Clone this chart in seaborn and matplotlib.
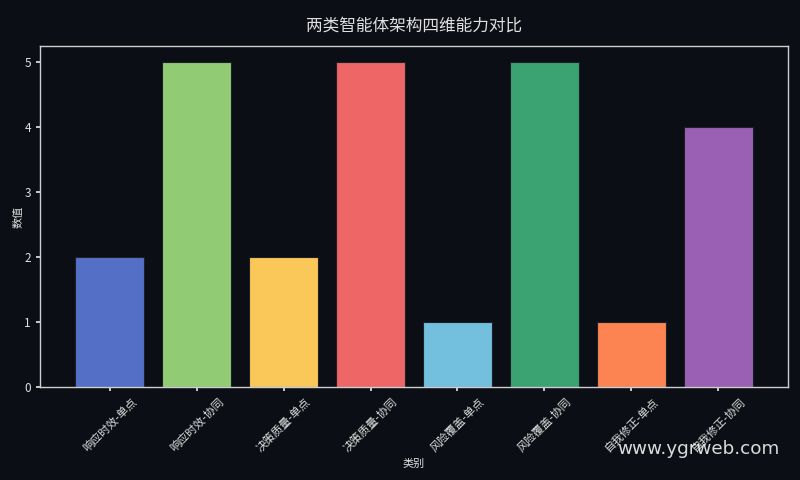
import matplotlib
matplotlib.use("Agg")
import matplotlib.pyplot as plt
import seaborn as sns
import pandas as pd

categories = ["响应时效-单点", "响应时效-协同", "决策质量-单点", "决策质量-协同",
              "风险覆盖-单点", "风险覆盖-协同", "自我修正-单点", "自我修正-协同"]
values = [2, 5, 2, 5, 1, 5, 1, 4]
colors = ["#5470c6", "#91cc75", "#fac858", "#ee6666",
          "#73c0de", "#3ba272", "#fc8452", "#9a60b4"]

bg = "#0b0e14"
fg = "#e0e0e0"

sns.set_theme(style="dark")
plt.rcParams['font.family'] = ['Noto Sans CJK SC', 'DejaVu Sans']
plt.rcParams['axes.unicode_minus'] = False

df = pd.DataFrame({"类别": categories, "数值": values})

fig, ax = plt.subplots(figsize=(8, 4.8), dpi=100)
fig.patch.set_facecolor(bg)
ax.set_facecolor(bg)

sns.barplot(data=df, x="类别", y="数值", hue="类别", palette=colors,
            legend=False, ax=ax, width=0.8, saturation=1,
            edgecolor="#1e2028", linewidth=0.8)

ax.set_xlim(-0.8, 7.8)
ax.set_ylim(0, 5.25)
ax.set_title("两类智能体架构四维能力对比", color=fg, fontsize=12, pad=11)
ax.set_xlabel("类别", color=fg, fontsize=8)
ax.set_ylabel("数值", color=fg, fontsize=8, labelpad=0.5)
ax.tick_params(axis='x', colors=fg, labelsize=8, rotation=45, length=3, bottom=True)
ax.tick_params(axis='y', colors=fg, labelsize=8.5, length=3, left=True)
for lbl in ax.get_xticklabels():
    lbl.set_ha('center')
for s in ax.spines.values():
    s.set_visible(True)
    s.set_color("#cfcfcf")
    s.set_linewidth(1)
ax.grid(False)

fig.subplots_adjust(left=0.05, right=0.985, top=0.904, bottom=0.194)

fig.text(0.975, 0.065, "www.ygrweb.com", color="#ffffff", alpha=0.85,
         fontsize=13.2, ha='right', va='center', family=['DejaVu Sans'])

fig.savefig("out.png", dpi=100, facecolor=bg)
